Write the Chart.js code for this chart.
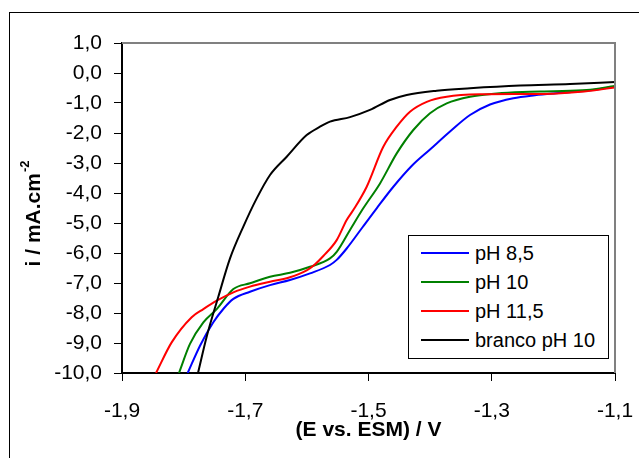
<!DOCTYPE html>
<html>
<head>
<meta charset="utf-8">
<script src="https://cdn.jsdelivr.net/npm/chart.js@4.4.0/dist/chart.umd.min.js"></script>
<style>
    html, body { margin: 0; padding: 0; background: #fff; }
    #wrap { position: relative; width: 639px; height: 458px; overflow: hidden; }
    #legend {
        position: absolute; left: 408px; top: 235px; width: 199px; height: 122px;
        border: 1px solid #000; background: #fff;
        font-family: 'Liberation Sans', Arial, sans-serif; font-size: 20px; color: #000;
    }
    .item { position: absolute; left: 0; height: 24px; line-height: 24px; white-space: nowrap; }
    .item .sw { position: absolute; left: 12px; top: 11px; width: 48px; height: 2px; }
    .item .lb { position: absolute; left: 66px; top: 0; }
</style>
</head>
<body>
<div id="wrap">
    <canvas id="chart" width="639" height="458"></canvas>
    <div id="legend"></div>
</div>
<script>
// tick labels
const xTicks = [-1.9, -1.7, -1.5, -1.3, -1.1];
const yTicks = [1, 0, -1, -2, -3, -4, -5, -6, -7, -8, -9, -10];

const seriesNames = ['pH 8,5', 'pH 10', 'pH 11,5', 'branco pH 10'];
const seriesColors = ['#0000ff', '#008000', '#ff0000', '#000000'];

// pH 8,5
const xPh85 = [-1.7934, -1.7734, -1.7518, -1.735, -1.7193, -1.6923, -1.6598, -1.6274, -1.5949, -1.5625,
    -1.5516, -1.5354, -1.51, -1.4867, -1.46, -1.43, -1.4002, -1.3677, -1.3353, -1.3028,
    -1.265, -1.23, -1.2, -1.15, -1.1];
const yPh85 = [-10, -9.09, -8.31, -7.85, -7.53, -7.29, -7.07, -6.90, -6.68, -6.40,
    -6.23, -5.85, -5.15, -4.51, -3.80, -3.10, -2.55, -1.95, -1.40, -1.05,
    -0.84, -0.74, -0.68, -0.60, -0.46];

// pH 10
const xPh10 = [-1.8075, -1.7897, -1.768, -1.7463, -1.7193, -1.6923, -1.6598, -1.6274, -1.5949, -1.5625,
    -1.5516, -1.53, -1.5085, -1.4813, -1.4542, -1.4273, -1.4002, -1.3731, -1.3353, -1.292,
    -1.25, -1.2, -1.146, -1.1];
const yPh10 = [-10, -9.03, -8.31, -7.87, -7.20, -7.01, -6.79, -6.66, -6.46, -6.18,
    -5.96, -5.23, -4.51, -3.68, -2.68, -1.90, -1.34, -1.01, -0.79, -0.68,
    -0.63, -0.61, -0.57, -0.43];

// pH 11,5
const xPh115 = [-1.8448, -1.8194, -1.7869, -1.768, -1.7463, -1.7193, -1.6923, -1.6598, -1.6274, -1.6003,
    -1.588, -1.5733, -1.5516, -1.5354, -1.5247, -1.5029, -1.476, -1.4542, -1.4327, -1.4055,
    -1.3731, -1.319, -1.25, -1.2, -1.15, -1.1];
const yPh115 = [-10, -8.98, -8.14, -7.87, -7.59, -7.31, -7.12, -6.96, -6.81, -6.58,
    -6.40, -6.10, -5.57, -4.90, -4.57, -3.79, -2.46, -1.79, -1.29, -0.96,
    -0.79, -0.71, -0.70, -0.69, -0.62, -0.48];

// branco pH 10
const xBranco = [-1.7767, -1.7626, -1.7437, -1.7247, -1.7031, -1.6814, -1.6598, -1.6327, -1.6003, -1.5787,
    -1.5625, -1.53, -1.4976, -1.4651, -1.438, -1.3893, -1.3353, -1.254, -1.173, -1.1];
const yBranco = [-10, -8.79, -7.46, -6.18, -5.12, -4.18, -3.40, -2.79, -2.07, -1.79,
    -1.62, -1.47, -1.23, -0.90, -0.73, -0.59, -0.51, -0.42, -0.37, -0.30];

const seriesX = [xPh85, xPh10, xPh115, xBranco];
const seriesY = [yPh85, yPh10, yPh115, yBranco];

const FONT = "'Liberation Sans', Arial, sans-serif";
const fmt = v => v.toFixed(1).replace('.', ',').replace('-0,0', '0,0');

const frame = {
    id: 'frame',
    beforeDraw(chart) {
        const c = chart.ctx;
        c.save();
        c.strokeStyle = '#000';
        c.lineWidth = 1;
        c.strokeRect(9.5, 12.5, 800, 800);
        c.restore();
    },
    afterDatasetsDraw(chart) {
        const a = chart.chartArea;
        const c = chart.ctx;
        c.save();
        c.strokeStyle = '#808080';
        c.lineWidth = 2;
        c.beginPath();
        c.moveTo(a.left, a.top);
        c.lineTo(a.right, a.top);
        c.lineTo(a.right, a.bottom);
        c.stroke();

        // y axis title with superscript
        c.translate(33, (a.top + a.bottom) / 2 + 6);
        c.rotate(-Math.PI / 2);
        c.fillStyle = '#000';
        c.textBaseline = 'middle';
        const main = 'i / mA.cm';
        c.font = 'bold 21px ' + FONT;
        const w1 = c.measureText(main).width;
        c.font = 'bold 13px ' + FONT;
        const w2 = c.measureText('-2').width;
        const x0 = -(w1 + w2) / 2;
        c.font = 'bold 21px ' + FONT;
        c.textAlign = 'left';
        c.fillText(main, x0, 1);
        c.font = 'bold 13px ' + FONT;
        c.fillText('-2', x0 + w1 + 1, -8);
        c.restore();
    }
};

const datasets = seriesNames.map((name, i) => ({
    label: name,
    data: seriesX[i].map((x, j) => ({ x: x, y: seriesY[i][j] })),
    borderColor: seriesColors[i],
    borderWidth: 2,
    pointRadius: 0,
    showLine: true,
    fill: false,
    cubicInterpolationMode: 'monotone',
    order: 4 - i
}));

new Chart(document.getElementById('chart'), {
    type: 'scatter',
    data: { datasets: datasets },
    options: {
        responsive: false,
        animation: false,
        layout: { padding: { left: 0, top: 43, right: 24, bottom: 0 } },
        plugins: { legend: { display: false }, tooltip: { enabled: false } },
        scales: {
            x: {
                type: 'linear', min: -1.9, max: -1.1,
                afterFit: s => { s.height = 85; s.paddingRight = 0; s.paddingLeft = 0; },
                afterBuildTicks: s => { s.ticks = xTicks.map(v => ({ value: v })); },
                border: { color: '#000', width: 2 },
                grid: { drawOnChartArea: false, tickLength: 8, color: '#000', lineWidth: 1 },
                ticks: {
                    color: '#000', padding: 18, maxRotation: 0,
                    font: { family: FONT, size: 21 },
                    callback: v => fmt(v)
                },
                title: {
                    display: true, text: '(E vs. ESM) / V', color: '#000',
                    font: { family: FONT, size: 21, weight: 'bold' },
                    padding: { top: 0, bottom: 15 }
                }
            },
            y: {
                type: 'linear', min: -10, max: 1,
                afterFit: s => { s.width = 122; },
                afterBuildTicks: s => { s.ticks = yTicks.map(v => ({ value: v })); },
                border: { color: '#000', width: 2 },
                grid: { drawOnChartArea: false, tickLength: 8, color: '#000', lineWidth: 1 },
                ticks: {
                    color: '#000', padding: 12,
                    font: { family: FONT, size: 21 },
                    callback: v => fmt(v)
                }
            }
        }
    },
    plugins: [frame]
});

// legend built from the series names/colours
const legend = document.getElementById('legend');
seriesNames.forEach((name, i) => {
    const row = document.createElement('div');
    row.className = 'item';
    row.style.top = (5 + i * 29) + 'px';
    row.innerHTML = '<div class="sw" style="background:' + seriesColors[i] + '"></div><div class="lb">' + name + '</div>';
    legend.appendChild(row);
});
</script>
</body>
</html>
